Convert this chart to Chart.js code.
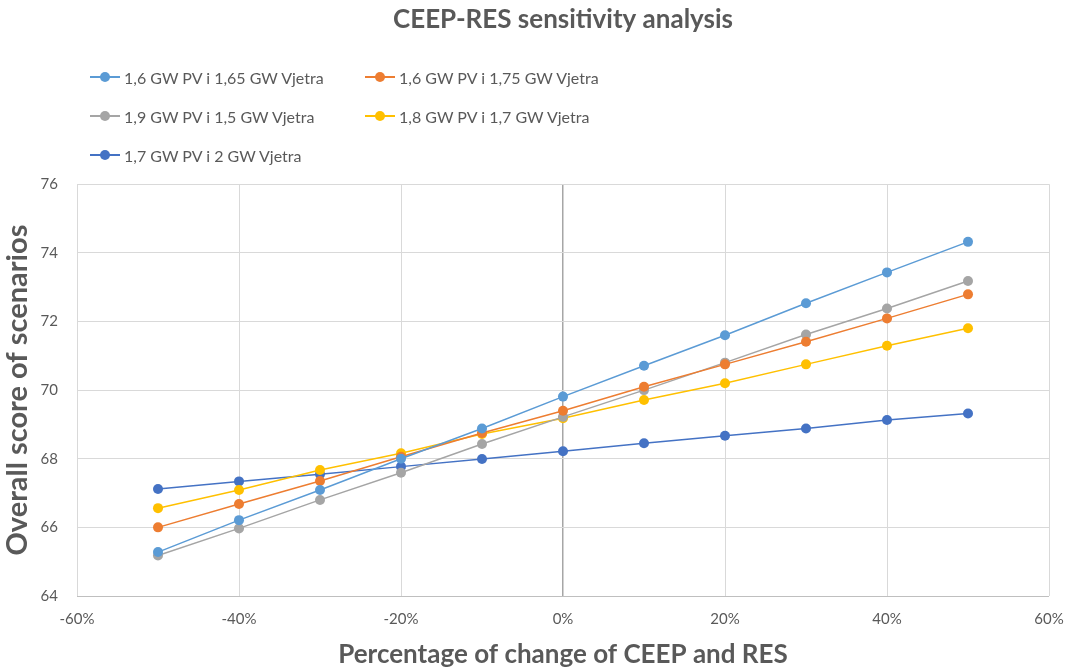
<!DOCTYPE html>
<html>
<head>
<meta charset="utf-8">
<title>CEEP-RES sensitivity analysis</title>
<script src="https://cdn.jsdelivr.net/npm/chart.js@4.4.1/dist/chart.umd.min.js"></script>
<style>
  body { margin: 0; background: #fff; }
  .wrap { position: relative; width: 1069px; height: 670px; }
  .legend { position: absolute; left: 90px; top: 66px; width: 560px; font-family: Lato, "Open Sans", sans-serif; font-size: 16px; color: #595959; }
  .item { position: absolute; white-space: nowrap; display: flex; align-items: center; height: 22px; }
  .mark { position: relative; width: 30px; height: 22px; margin-right: 4px; }
  .mark .ln { position: absolute; left: 0; right: 0; top: 10px; height: 2px; }
  .mark .dot { position: absolute; left: 10px; top: 6px; width: 10px; height: 10px; border-radius: 50%; }
</style>
</head>
<body>
<div class="wrap">
  <canvas id="sensitivity_chart" width="1069" height="670"></canvas>
  <div class="legend" id="legend"></div>
</div>
<script>
// percentage change of CEEP and RES
const changes = [-50, -40, -30, -20, -10, 0, 10, 20, 30, 40, 50];

const names = [
    '1,6 GW PV i 1,65 GW Vjetra',
    '1,6 GW PV i 1,75 GW Vjetra',
    '1,9 GW PV i 1,5 GW Vjetra',
    '1,8 GW PV i 1,7 GW Vjetra',
    '1,7 GW PV i 2 GW Vjetra'
];

const pv16_w165 = [65.28, 66.21, 67.09, 68.00, 68.88, 69.81, 70.71, 71.60, 72.53, 73.43, 74.32];
const pv16_w175 = [66.00, 66.68, 67.35, 68.06, 68.75, 69.40, 70.10, 70.75, 71.41, 72.09, 72.79];
const pv19_w15  = [65.18, 65.97, 66.80, 67.59, 68.43, 69.22, 70.00, 70.80, 71.62, 72.38, 73.18];
const pv18_w17  = [66.56, 67.09, 67.67, 68.16, 68.72, 69.18, 69.71, 70.20, 70.75, 71.29, 71.80];
const pv17_w2   = [67.12, 67.34, 67.55, 67.77, 67.99, 68.22, 68.45, 68.67, 68.88, 69.13, 69.32];

const colors = ['#5B9BD5', '#ED7D31', '#A5A5A5', '#FFC000', '#4472C4'];
const series = [pv16_w165, pv16_w175, pv19_w15, pv18_w17, pv17_w2];

const textColor = '#595959';
const font = 'Lato, "Open Sans", sans-serif';

let datasets = series.map((values, i) => ({
    label: names[i],
    data: changes.map((c, j) => ({x: c, y: values[j]})),
    borderColor: colors[i],
    backgroundColor: colors[i],
    borderWidth: 1.5,
    pointRadius: 5,
    pointHoverRadius: 5,
    pointBorderWidth: 0,
    tension: 0
}));

let ctx = document.getElementById('sensitivity_chart');
new Chart(ctx, {
    type: 'line',
    data: { datasets: datasets },
    options: {
        responsive: false,
        animation: false,
        layout: { padding: { left: 0, right: 0, top: 4, bottom: 0 } },
        plugins: {
            legend: { display: false },
            tooltip: { enabled: false },
            title: {
                display: true,
                text: 'CEEP-RES sensitivity analysis',
                fullSize: false,
                color: textColor,
                font: { family: font, size: 26, weight: 'bold' },
                padding: { top: 0, bottom: 149 }
            }
        },
        scales: {
            x: {
                type: 'linear',
                min: -60,
                max: 60,
                border: { display: false },
                grid: {
                    drawTicks: false,
                    color: (c) => c.tick && c.tick.value === 0 ? '#a6a6a6' : '#d9d9d9',
                    lineWidth: (c) => c.tick && c.tick.value === 0 ? 1.5 : 1
                },
                ticks: {
                    stepSize: 20,
                    padding: 14,
                    color: textColor,
                    font: { family: font, size: 15 },
                    callback: (v) => v + '%'
                },
                title: {
                    display: true,
                    text: 'Percentage of change of CEEP and RES',
                    color: textColor,
                    font: { family: font, size: 26, weight: 'bold' },
                    padding: { top: 0, bottom: 0 }
                },
                afterFit: (scale) => {
                    scale.paddingRight = 20;
                    scale.height = 74;
                }
            },
            y: {
                min: 64,
                max: 76,
                border: { display: false },
                grid: {
                    drawTicks: false,
                    color: (c) => c.tick && c.tick.value === 64 ? '#bfbfbf' : '#d9d9d9'
                },
                ticks: {
                    stepSize: 2,
                    padding: 19,
                    color: textColor,
                    font: { family: font, size: 15 }
                },
                title: {
                    display: true,
                    text: 'Overall score of scenarios',
                    color: textColor,
                    font: { family: font, size: 29, weight: 'bold' },
                    padding: { top: 0, bottom: 0 }
                },
                afterFit: (scale) => {
                    scale.width = 77;
                }
            }
        }
    }
});

/* html legend, two columns like the original */
let legend = document.getElementById('legend');
let spots = [[0, 0], [275, 0], [0, 39], [275, 39], [0, 78]];
names.forEach((name, i) => {
    let item = document.createElement('div');
    item.className = 'item';
    item.style.left = spots[i][0] + 'px';
    item.style.top = spots[i][1] + 'px';
    item.innerHTML = '<span class="mark"><span class="ln" style="background:' + colors[i] + '"></span>' +
        '<span class="dot" style="background:' + colors[i] + '"></span></span><span></span>';
    item.lastChild.textContent = name;
    legend.appendChild(item);
});
</script>
</body>
</html>
